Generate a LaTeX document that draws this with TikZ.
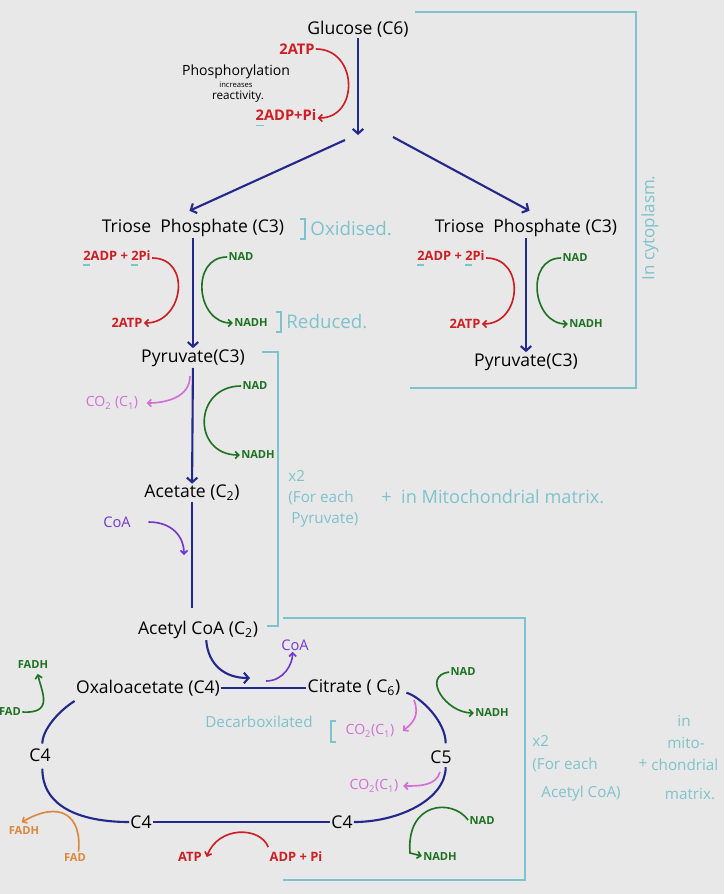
\documentclass[tikz,border=0pt]{standalone}
\usepackage{fontspec}
\setmainfont{Open Sans}
\usetikzlibrary{arrows.meta, positioning}
\definecolor{bggrey}{RGB}{232,232,232}
\definecolor{navy}{RGB}{35,40,140}
\definecolor{atpred}{RGB}{205,30,35}
\definecolor{nadgreen}{RGB}{30,115,35}
\definecolor{copink}{RGB}{210,110,215}
\definecolor{coapurple}{RGB}{115,55,205}
\definecolor{fadorange}{RGB}{220,135,60}
\definecolor{noteteal}{RGB}{125,195,205}
% teal tick under a coefficient
\newcommand{\tmark}[1]{\rlap{\textcolor{noteteal}{\rule[-4.5pt]{0.55em}{1.2pt}}}#1}
\tikzset{
  chem/.style={font=\fontsize{15}{16}\selectfont, inner sep=1pt},
  redlab/.style={font=\fontsize{11}{12}\selectfont\bfseries, text=atpred, inner sep=1pt},
  bigred/.style={redlab, font=\fontsize{12.5}{13}\selectfont\bfseries},
  greenlab/.style={font=\fontsize{9.5}{10}\selectfont\bfseries, text=nadgreen, inner sep=1pt},
  pinklab/.style={font=\fontsize{12}{13}\selectfont, text=copink, inner sep=1pt},
  purplab/.style={font=\fontsize{12.5}{13}\selectfont, text=coapurple, inner sep=1pt},
  orangelab/.style={font=\fontsize{9.5}{10}\selectfont\bfseries, text=fadorange, inner sep=1pt},
  tealnote/.style={font=\fontsize{13}{14}\selectfont, text=noteteal, inner sep=1pt, anchor=west},
  bignote/.style={tealnote, font=\fontsize{16}{17}\selectfont},
  tealline/.style={draw=noteteal, line width=1.4pt},
  mainline/.style={draw=navy, line width=1.8pt},
  mainarr/.style={mainline, -{Straight Barb[length=4pt,width=9pt]}},
  redarr/.style={draw=atpred, line width=1.4pt, -{Straight Barb[length=3pt,width=6pt]}},
  greenarr/.style={draw=nadgreen, line width=1.4pt, -{Straight Barb[length=3pt,width=6pt]}},
  pinkarr/.style={draw=copink, line width=1.4pt, -{Straight Barb[length=3pt,width=6pt]}},
  purparr/.style={draw=coapurple, line width=1.4pt, -{Straight Barb[length=3pt,width=6pt]}},
  orangearr/.style={draw=fadorange, line width=1.4pt, -{Straight Barb[length=3pt,width=6pt]}},
}
\begin{document}
\begin{tikzpicture}[x=0.03cm, y=-0.03cm]
  \path[use as bounding box, fill=bggrey] (0,0) rectangle (724,894);

  % glycolysis
  \node[chem] (glucose) at (358,29) {Glucose (C6)};
  \coordinate (gluend) at (358,135);
  \draw[mainarr] (glucose) -- (gluend);
  \node[bigred] (atpA) at (297,49) {2ATP};
  \node[bigred] (adpA) at (286,118) {\tmark{2}ADP+Pi};
  \draw[redarr] (atpA.east) .. controls +(42,0) and +(42,0) .. (adpA.east);
  \node[font=\fontsize{12}{13}\selectfont, inner sep=1pt] (phos) at (236,72) {Phosphorylation};
  \node[font=\fontsize{6.5}{7}\selectfont, inner sep=0pt] (incr) at (236,85) {increases};
  \node[font=\fontsize{10}{11}\selectfont, inner sep=1pt] (react) at (238,97) {reactivity.};

  \node[chem] (triL) at (193,228) {Triose\ \ Phosphate (C3)};
  \node[chem] (triR) at (526,228) {Triose\ \ Phosphate (C3)};
  \coordinate (splitL) at (345,140);
  \coordinate (splitR) at (393,137);
  \draw[mainarr] (splitL) -- ([xshift=-3pt,yshift=6pt]triL.north);
  \draw[mainarr] (splitR) -- ([xshift=3pt,yshift=6pt]triR.north);

  % cytoplasm box
  \draw[tealline] (415,12) -- (636,12) -- (636,388) -- (410,388);
  \node[tealnote, anchor=center, rotate=90, font=\fontsize{14.5}{15}\selectfont] (cyto) at (650,228) {In cytoplasm.};

  % left triose -> pyruvate
  \node[chem] (pyrL) at (193,358) {Pyruvate(C3)};
  \draw[mainarr] (triL) -- (pyrL);
  \node[redlab] (adpL) at (117,258) {\tmark{2}ADP + \tmark{2}Pi};
  \node[redlab] (atpL) at (127,323) {2ATP};
  \draw[redarr] (adpL.east) .. controls +(40,0) and +(40,0) .. (atpL.east);
  \node[greenlab] (nadL) at (241,257) {NAD};
  \node[greenlab] (nadhL) at (251,323) {NADH};
  \draw[greenarr] (nadL.west) .. controls +(-37,0) and +(-37,0) .. (nadhL.west);
  \draw[tealline] (300,219) -- (305,219) -- (305,239) -- (300,239);
  \node[bignote] (oxid) at (309,229) {Oxidised.};
  \draw[tealline] (276,312) -- (281,312) -- (281,332) -- (276,332);
  \node[bignote] (redu) at (285,322) {Reduced.};

  % right triose -> pyruvate
  \node[chem] (pyrR) at (526,362) {Pyruvate(C3)};
  \draw[mainarr] (triR) -- (pyrR);
  \node[redlab] (adpR) at (451,258) {\tmark{2}ADP + \tmark{2}Pi};
  \node[redlab] (atpR) at (465,324) {2ATP};
  \draw[redarr] (adpR.east) .. controls +(40,0) and +(40,0) .. (atpR.east);
  \node[greenlab] (nadR) at (575,258) {NAD};
  \node[greenlab] (nadhR) at (586,324) {NADH};
  \draw[greenarr] (nadR.west) .. controls +(-36,0) and +(-36,0) .. (nadhR.west);

  % link reaction
  \node[chem] (acetate) at (192,493) {Acetate (C\textsubscript{2})};
  \draw[mainarr] (pyrL) -- (acetate);
  \coordinate (pyrbranch) at (190,376);
  \node[pinklab] (co2A) at (112,403) {CO\textsubscript{2} (C\textsubscript{1})};
  \draw[pinkarr] (pyrbranch) .. controls +(0,22) and +(18,0) .. ([xshift=6pt]co2A.east);
  \node[greenlab] (nadM) at (255,386) {NAD};
  \node[greenlab] (nadhM) at (258,455) {NADH};
  \draw[greenarr] (nadM.west) .. controls +(-48,0) and +(-48,0) .. (nadhM.west);
  \node[chem] (acetyl) at (198,630) {Acetyl CoA (C\textsubscript{2})};
  \draw[mainline] (acetate.south) -- ([yshift=10pt]acetate.south |- acetyl.north);
  \node[purplab] (coaA) at (117,522) {CoA};
  \coordinate (coaend) at (184,555);
  \draw[purparr] ([xshift=14pt]coaA.east) .. controls +(24,0) and +(0,-18) .. (coaend);

  % mitochondria brackets
  \draw[tealline] (262,352) -- (278,352) -- (278,626) -- (267,626);
  \node[tealnote] (xtwoA) at (287,476) {x2};
  \node[tealnote] (eachA) at (287,498) {(For each};
  \node[tealnote] (pyrnote) at (290,520) {Pyruvate)};
  \node[tealnote, font=\fontsize{15.5}{16}\selectfont] (mitoA) at (380,497) {+\ \ in Mitochondrial matrix.};
  \draw[tealline] (283,618) -- (525,618) -- (525,880) -- (283,880);

  % Krebs cycle
  \node[chem] (oxalo) at (148,688) {Oxaloacetate (C4)};
  \node[chem] (citrate) at (354,688) {Citrate ( C\textsubscript{6})};
  \draw[mainline] (oxalo) -- (citrate);
  \coordinate (joinend) at (250,678);
  \draw[mainarr] ([xshift=7pt]acetyl.south) .. controls +(2,25) and +(-25,0) .. (joinend);
  \node[purplab] (coaB) at (295,645) {CoA};
  \coordinate (coaleave) at (266,681);
  \draw[purparr] (coaleave) .. controls +(18,0) and +(0,12) .. ([xshift=-2pt]coaB.south);
  \node[chem] (c4a) at (40,755) {C4};
  \node[chem] (c4b) at (141,822) {C4};
  \node[chem] (c4c) at (342,822) {C4};
  \node[chem] (c5) at (441,757) {C5};
  \draw[mainline] ([yshift=-3pt]oxalo.south west) .. controls +(-16,10) and +(0,-14) .. ([xshift=2pt,yshift=3pt]c4a.north);
  \draw[mainline] ([xshift=2pt,yshift=-5pt]c4a.south) .. controls +(0,40) and +(-45,0) .. (c4b.west);
  \draw[mainline] (c4b) -- (c4c);
  \draw[mainline] (c4c.east) .. controls +(45,0) and +(0,32) .. ([xshift=4pt,yshift=-2pt]c5.south);
  \draw[mainline] ([xshift=4pt,yshift=5pt]c5.north) .. controls +(0,-22) and +(14,4) .. ([xshift=4pt,yshift=-4pt]citrate.east);

  \node[greenlab] (fadhA) at (33,665) {FADH};
  \node[greenlab] (fadA) at (10,712) {FAD};
  \draw[greenarr] (fadA.east) .. controls +(32,2) and +(4,18) .. ([xshift=4pt,yshift=-3pt]fadhA.south);
  \node[orangelab] (fadhB) at (24,830) {FADH};
  \node[orangelab] (fadB) at (75,857) {FAD};
  \draw[orangearr] ([xshift=3pt]fadB.north) .. controls (82,815) and (60,800) .. ([xshift=-2pt,yshift=2pt]fadhB.north);
  \node[redlab] (atpC) at (190,857) {ATP};
  \node[redlab] (adpC) at (296,857) {ADP + Pi};
  \draw[redarr] ([yshift=3pt]adpC.north west) .. controls (260,826) and (218,826) .. ([xshift=3pt]atpC.east);

  \node[greenlab] (nadC) at (463,672) {NAD};
  \node[greenlab] (nadhC) at (492,713) {NADH};
  \draw[greenarr] (nadC.west) .. controls +(-28,4) and +(-28,0) .. (nadhC.west);
  \node[tealnote, anchor=center] (decarb) at (259,722) {Decarboxilated};
  \draw[tealline] (336,721) -- (331,721) -- (331,742) -- (336,742);
  \node[pinklab] (co2B) at (370,731) {CO\textsubscript{2}(C\textsubscript{1})};
  \coordinate (citbranch) at (414,700);
  \draw[pinkarr] (citbranch) .. controls +(6,16) and +(10,-8) .. ([xshift=6pt]co2B.east);
  \node[pinklab] (co2C) at (374,786) {CO\textsubscript{2}(C\textsubscript{1})};
  \coordinate (c5branch) at (440,772);
  \draw[pinkarr] (c5branch) .. controls +(-4,14) and +(16,0) .. ([xshift=3pt]co2C.east);
  \node[greenlab] (nadD) at (482,820) {NAD};
  \node[greenlab] (nadhD) at (440,856) {NADH};
  \draw[greenarr] (nadD.west) .. controls (452,798) and (406,802) .. (410,853) -- (nadhD.west);

  \node[tealnote] (xtwoB) at (531,741) {x2};
  \node[tealnote] (eachB) at (531,765) {(For each};
  \node[tealnote] (acnote) at (540,794) {Acetyl CoA)};
  \node[tealnote, anchor=center] (plusB) at (643,764) {+};
  \node[tealnote, anchor=center] (inB) at (684,721) {in};
  \node[tealnote, anchor=center] (mitoB) at (686,743) {mito-};
  \node[tealnote, anchor=west] (chonB) at (650,765) {chondrial};
  \node[tealnote, anchor=center] (matB) at (690,794) {matrix.};
\end{tikzpicture}
\end{document}
